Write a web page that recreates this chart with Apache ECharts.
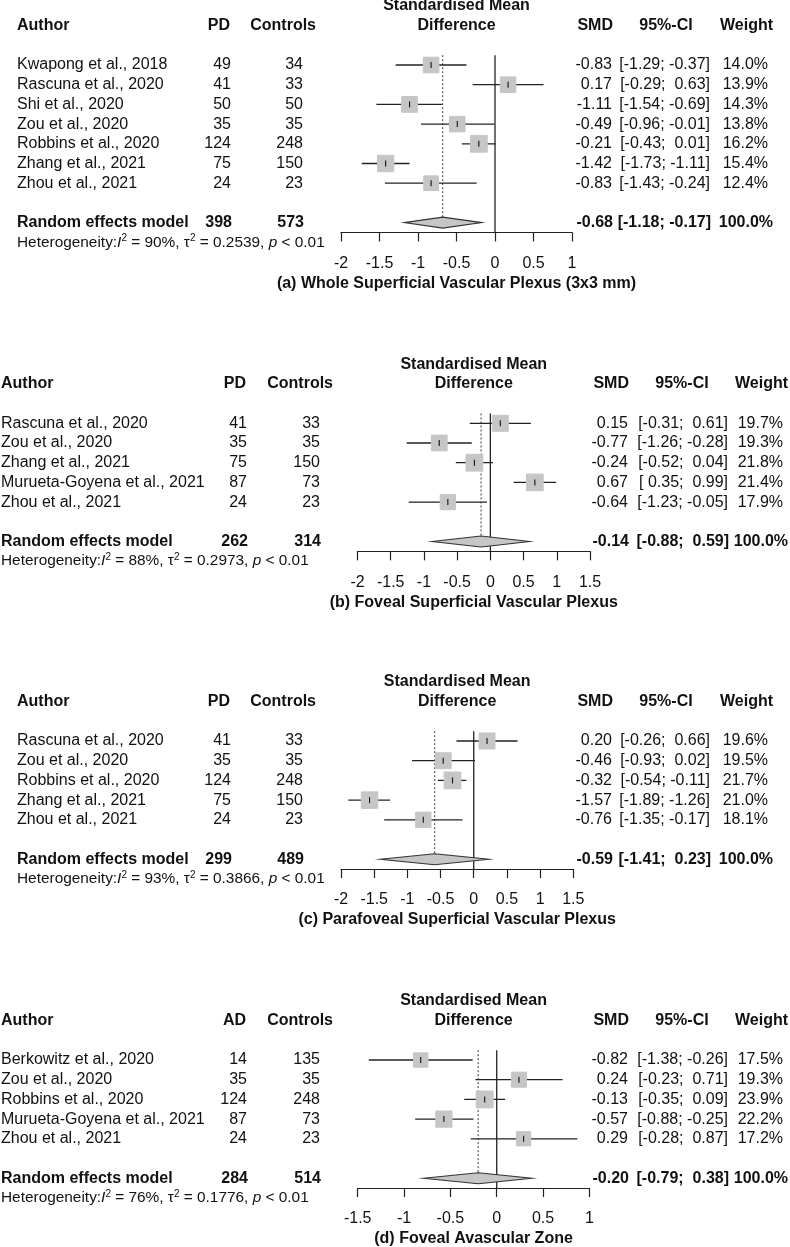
<!DOCTYPE html>
<html><head><meta charset="utf-8">
<script src="https://cdn.jsdelivr.net/npm/echarts@6/dist/echarts.min.js"></script>
<style>html,body{margin:0;padding:0;background:#fff}#c{width:790px;height:1247px}</style>
</head><body><div id="c"></div>
<script>
// ---------- Panel (a) ----------
const authorsA = ['Kwapong et al., 2018','Rascuna et al., 2020','Shi et al., 2020','Zou et al., 2020','Robbins et al., 2020','Zhang et al., 2021','Zhou et al., 2021'];
const n1A = [49,41,50,35,124,75,24];
const n2A = [34,33,50,35,248,150,23];
const smdA = [-0.83,0.17,-1.11,-0.49,-0.21,-1.42,-0.83];
const loA = [-1.29,-0.29,-1.54,-0.96,-0.43,-1.73,-1.43];
const hiA = [-0.37,0.63,-0.69,-0.01,0.01,-1.11,-0.24];
const wA = [14.0,13.9,14.3,13.8,16.2,15.4,12.4];
const pooledA = [-0.68,-1.18,-0.17];
const totalsA = [398,573];
const hetA = ['90%','0.2539','< 0.01'];
const ticksA = [-2,-1.5,-1,-0.5,0,0.5,1];
const titleA = '(a) Whole Superficial Vascular Plexus (3x3 mm)';
const groupA = 'PD';

// ---------- Panel (b) ----------
const authorsB = ['Rascuna et al., 2020','Zou et al., 2020','Zhang et al., 2021','Murueta-Goyena et al., 2021','Zhou et al., 2021'];
const n1B = [41,35,75,87,24];
const n2B = [33,35,150,73,23];
const smdB = [0.15,-0.77,-0.24,0.67,-0.64];
const loB = [-0.31,-1.26,-0.52,0.35,-1.23];
const hiB = [0.61,-0.28,0.04,0.99,-0.05];
const wB = [19.7,19.3,21.8,21.4,17.9];
const pooledB = [-0.14,-0.88,0.59];
const totalsB = [262,314];
const hetB = ['88%','0.2973','< 0.01'];
const ticksB = [-2,-1.5,-1,-0.5,0,0.5,1,1.5];
const titleB = '(b) Foveal Superficial Vascular Plexus';
const groupB = 'PD';

// ---------- Panel (c) ----------
const authorsC = ['Rascuna et al., 2020','Zou et al., 2020','Robbins et al., 2020','Zhang et al., 2021','Zhou et al., 2021'];
const n1C = [41,35,124,75,24];
const n2C = [33,35,248,150,23];
const smdC = [0.20,-0.46,-0.32,-1.57,-0.76];
const loC = [-0.26,-0.93,-0.54,-1.89,-1.35];
const hiC = [0.66,0.02,-0.11,-1.26,-0.17];
const wC = [19.6,19.5,21.7,21.0,18.1];
const pooledC = [-0.59,-1.41,0.23];
const totalsC = [299,489];
const hetC = ['93%','0.3866','< 0.01'];
const ticksC = [-2,-1.5,-1,-0.5,0,0.5,1,1.5];
const titleC = '(c) Parafoveal Superficial Vascular Plexus';
const groupC = 'PD';

// ---------- Panel (d) ----------
const authorsD = ['Berkowitz et al., 2020','Zou et al., 2020','Robbins et al., 2020','Murueta-Goyena et al., 2021','Zhou et al., 2021'];
const n1D = [14,35,124,87,24];
const n2D = [135,35,248,73,23];
const smdD = [-0.82,0.24,-0.13,-0.57,0.29];
const loD = [-1.38,-0.23,-0.35,-0.88,-0.28];
const hiD = [-0.26,0.71,0.09,-0.25,0.87];
const wD = [17.5,19.3,23.9,22.2,17.2];
const pooledD = [-0.20,-0.79,0.38];
const totalsD = [284,514];
const hetD = ['76%','0.1776','< 0.01'];
const ticksD = [-1.5,-1,-0.5,0,0.5,1];
const titleD = '(d) Foveal Avascular Zone';
const groupD = 'AD';

// ---------- layout (pixels) ----------
const FONT = '"Liberation Sans", Arial, Helvetica, sans-serif';
const RH = 19.7;
const SQ = 16.8;
const TXT = '#111';
const LINE = '#222';
const L1 = {author:17, pdHdrR:230, pdR:231, ctlHdrR:316, ctlR:303, smdHdrR:613, smdR:612, ciHdrC:666, ciR:710, wHdrR:773, wR:768};
const L2 = {author:1, pdHdrR:246, pdR:247, ctlHdrR:333, ctlR:320, smdHdrR:629, smdR:628, ciHdrC:682, ciR:728, wHdrR:788, wR:783};

const panels = [
  {authors:authorsA,n1:n1A,n2:n2A,smd:smdA,lo:loA,hi:hiA,w:wA,pooled:pooledA,totals:totalsA,het:hetA,ticks:ticksA,title:titleA,group:groupA,L:L1,rowTop:65,left:341,width:231},
  {authors:authorsB,n1:n1B,n2:n2B,smd:smdB,lo:loB,hi:hiB,w:wB,pooled:pooledB,totals:totalsB,het:hetB,ticks:ticksB,title:titleB,group:groupB,L:L2,rowTop:423.3,left:357.5,width:232.5},
  {authors:authorsC,n1:n1C,n2:n2C,smd:smdC,lo:loC,hi:hiC,w:wC,pooled:pooledC,totals:totalsC,het:hetC,ticks:ticksC,title:titleC,group:groupC,L:L1,rowTop:741,left:341,width:232.3},
  {authors:authorsD,n1:n1D,n2:n2D,smd:smdD,lo:loD,hi:hiD,w:wD,pooled:pooledD,totals:totalsD,het:hetD,ticks:ticksD,title:titleD,group:groupD,L:L2,rowTop:1060,left:357.7,width:231.7}
];

function f2(v){ return v.toFixed(2); }
function pad(v){ return (v >= 0 ? ' ' : '') + v.toFixed(2); }
function ci(lo,hi){ return '[' + pad(lo) + '; ' + pad(hi) + ']'; }

const grids = [], xAxes = [], yAxes = [], series = [];

panels.forEach((P, gi) => {
  const n = P.authors.length;
  const L = P.L;
  const wmax = Math.max.apply(null, P.w);
  grids.push({left:P.left, width:P.width, top:P.rowTop - 0.5*RH, height:(n+2)*RH, containLabel:false, outerBoundsMode:'none'});
  xAxes.push({
    gridIndex:gi, type:'value', min:P.ticks[0], max:P.ticks[P.ticks.length-1], interval:P.ticks[1]-P.ticks[0],
    axisLine:{show:true, onZero:false, lineStyle:{color:LINE, width:1.2}},
    axisTick:{show:true, inside:false, length:9, lineStyle:{color:LINE, width:1.2}},
    axisLabel:{show:true, color:TXT, fontSize:16, fontFamily:FONT, margin:23},
    splitLine:{show:false},
    name:P.title, nameLocation:'middle', nameGap:43,
    nameTextStyle:{color:TXT, fontSize:16, fontWeight:'bold', fontFamily:FONT}
  });
  yAxes.push({gridIndex:gi, type:'value', inverse:true, min:-0.5, max:n+1.5, show:false});

  // reference lines (null effect + pooled estimate)
  series.push({
    type:'custom', xAxisIndex:gi, yAxisIndex:gi, z:1, silent:true,
    data:[[0,-0.5,n+1.5,0],[P.pooled[0],-0.5,n+1,1]], encode:{x:0,y:1},
    renderItem:(params, api) => {
      const a = api.coord([api.value(0), api.value(1)]);
      const b = api.coord([api.value(0), api.value(2)]);
      const dotted = api.value(3) === 1;
      return {type:'line', shape:{x1:a[0], y1:a[1], x2:b[0], y2:b[1]},
        style:{stroke: dotted ? '#666' : LINE, lineWidth:1.3, lineDash: dotted ? [2,2] : null}};
    }
  });

  // studies: CI lines + weighted squares
  series.push({
    type:'custom', xAxisIndex:gi, yAxisIndex:gi, z:3, silent:true,
    data:P.smd.map((v,i) => [v, i, P.lo[i], P.hi[i], P.w[i]]), encode:{x:0,y:1},
    renderItem:(params, api) => {
      const row = api.value(1);
      const c = api.coord([api.value(0), row]);
      const a = api.coord([api.value(2), row]);
      const b = api.coord([api.value(3), row]);
      const side = SQ * Math.sqrt(api.value(4) / wmax);
      return {type:'group', children:[
        {type:'line', shape:{x1:a[0], y1:c[1], x2:b[0], y2:c[1]}, style:{stroke:LINE, lineWidth:1.3}},
        {type:'rect', shape:{x:c[0]-side/2, y:c[1]-side/2, width:side, height:side}, style:{fill:'#c6c6c6', stroke:'#c6c6c6'}},
        {type:'line', shape:{x1:c[0], y1:c[1]-3, x2:c[0], y2:c[1]+3}, style:{stroke:'#111', lineWidth:1.1}}
      ]};
    }
  });

  // pooled diamond
  series.push({
    type:'custom', xAxisIndex:gi, yAxisIndex:gi, z:3, silent:true,
    data:[[P.pooled[0], n+1, P.pooled[1], P.pooled[2]]], encode:{x:0,y:1},
    renderItem:(params, api) => {
      const row = api.value(1);
      const c = api.coord([api.value(0), row]);
      const a = api.coord([api.value(2), row]);
      const b = api.coord([api.value(3), row]);
      const h = 5.5;
      return {type:'polygon', shape:{points:[[a[0],c[1]],[c[0],c[1]-h],[b[0],c[1]],[c[0],c[1]+h]]},
        style:{fill:'#c6c6c6', stroke:'#333', lineWidth:1.1}};
    }
  });

  // table text
  const rowsDesc = [];
  const T = (x, text, align, bold, size, rich) => ({x, text, align, bold, size, rich});
  rowsDesc.push({row:-3, parts:[T('center','Standardised Mean','center',true)]});
  rowsDesc.push({row:-2, parts:[
    T(L.author,'Author','left',true), T(L.pdHdrR,P.group,'right',true), T(L.ctlHdrR,'Controls','right',true),
    T('center','Difference','center',true), T(L.smdHdrR,'SMD','right',true), T(L.ciHdrC,'95%-CI','center',true), T(L.wHdrR,'Weight','right',true)
  ]});
  P.authors.forEach((au, i) => {
    rowsDesc.push({row:i, parts:[
      T(L.author, au, 'left'), T(L.pdR, String(P.n1[i]), 'right'), T(L.ctlR, String(P.n2[i]), 'right'),
      T(L.smdR, f2(P.smd[i]), 'right'), T(L.ciR, ci(P.lo[i], P.hi[i]), 'right'), T(L.wR, P.w[i].toFixed(1) + '%', 'right')
    ]});
  });
  rowsDesc.push({row:n+1, parts:[
    T(L.author,'Random effects model','left',true), T(L.pdR+1,String(P.totals[0]),'right',true), T(L.ctlR+1,String(P.totals[1]),'right',true),
    T(L.smdR+1, f2(P.pooled[0]), 'right', true), T(L.ciR+1, ci(P.pooled[1], P.pooled[2]), 'right', true), T(L.wR+5, '100.0%', 'right', true)
  ]});
  rowsDesc.push({row:n+2, parts:[
    T(L.author, 'Heterogeneity:{i|I}{s|2} = ' + P.het[0] + ', τ{s|2} = ' + P.het[1] + ', {i|p} ' + P.het[2], 'left', false, 15.4, true)
  ]});

  series.push({
    type:'custom', xAxisIndex:gi, yAxisIndex:gi, z:4, silent:true,
    data:rowsDesc.map(d => [0, d.row]), encode:{x:0,y:1},
    renderItem:(params, api) => {
      const d = rowsDesc[params.dataIndex];
      const y = api.coord([0, d.row])[1];
      const cs = params.coordSys;
      const cx = cs.x + cs.width/2;
      return {type:'group', children:d.parts.map(p => {
        const size = p.size || 16;
        const st = {text:p.text, x:(p.x === 'center' ? cx : p.x), y:y, align:p.align, verticalAlign:'middle',
          fontSize:size, fontFamily:FONT, fontWeight:p.bold ? 'bold' : 'normal', fill:TXT};
        if (p.rich) {
          st.rich = {
            i:{fontStyle:'italic', fontSize:size, fontFamily:FONT, fill:TXT},
            s:{fontSize:10, fontFamily:FONT, fill:TXT, verticalAlign:'top', lineHeight:10}
          };
          st.lineHeight = 18;
        }
        return {type:'text', style:st};
      })};
    }
  });
});

const chart = echarts.init(document.getElementById('c'), null, {renderer:'canvas'});
chart.setOption({
  animation:false,
  backgroundColor:'#ffffff',
  grid:grids, xAxis:xAxes, yAxis:yAxes, series:series
});
</script>
</body></html>
